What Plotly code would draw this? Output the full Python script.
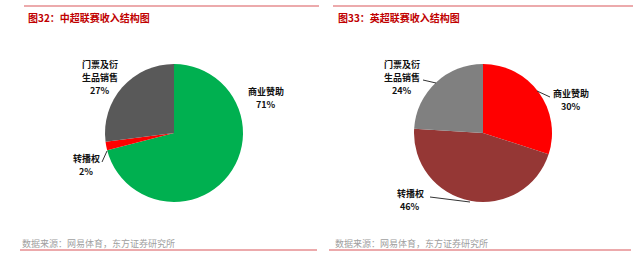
import plotly.graph_objects as go

W, H = 640, 256

# Data
cats_csl = ["商业赞助", "转播权", "门票及衍<br>生品销售"]
vals_csl = [71, 2, 27]
colors_csl = ["#00B050", "#FF0000", "#595959"]

cats_epl = ["商业赞助", "转播权", "门票及衍<br>生品销售"]
vals_epl = [30, 46, 24]
colors_epl = ["#FF0000", "#953735", "#808080"]

titles = ["图32：中超联赛收入结构图", "图33：英超联赛收入结构图"]
source = "数据来源：网易体育，东方证券研究所"

FONT = "Noto Sans CJK SC"


def px(x):
    return x / W


def py(y):
    return 1 - y / H


fig = go.Figure()

for vals, cats, cols, (x0, x1) in [
    (vals_csl, cats_csl, colors_csl, (105, 243)),
    (vals_epl, cats_epl, colors_epl, (414, 552)),
]:
    fig.add_trace(go.Pie(
        values=vals, labels=cats, marker=dict(colors=cols, line=dict(width=0)),
        sort=False, direction="clockwise", rotation=0,
        textinfo="none", hoverinfo="label+percent", showlegend=False,
        domain=dict(x=[px(x0), px(x1)], y=[py(202), py(64)]),
    ))

annotations = []
shapes = []

# titles and sources
for tx, t in zip([26, 336], titles):
    annotations.append(dict(x=px(tx), y=py(17), xref="paper", yref="paper", text="<b>%s</b>" % t,
                            showarrow=False, xanchor="left", yanchor="middle",
                            font=dict(family=FONT, size=10, color="#C00000")))
for tx in [20, 333]:
    annotations.append(dict(x=px(tx), y=py(243), xref="paper", yref="paper", text=source,
                            showarrow=False, xanchor="left", yanchor="middle",
                            font=dict(family=FONT, size=9, color="#A0A0A0")))
for (a, b) in [(24, 319), (333, 633)]:
    shapes.append(dict(type="line", xref="paper", yref="paper", x0=px(a), x1=px(b), y0=py(6), y1=py(6),
                       line=dict(color="#D9575B", width=1.2)))
    shapes.append(dict(type="line", xref="paper", yref="paper", x0=px(a - 4), x1=px(b - 2), y0=py(250), y1=py(250),
                       line=dict(color="#D9575B", width=1.2)))

# slice labels: (text centre x, first line y, category, value)
label_pos = [
    (266, 91, cats_csl[0], vals_csl[0]),
    (86, 158, cats_csl[1], vals_csl[1]),
    (100, 64, cats_csl[2], vals_csl[2]),
    (571, 93, cats_epl[0], vals_epl[0]),
    (410, 193, cats_epl[1], vals_epl[1]),
    (402, 64, cats_epl[2], vals_epl[2]),
]
LINE = 13
for x, y, c, v in label_pos:
    lines = c.split("<br>") + ["%d%%" % v]
    for i, ln in enumerate(lines):
        annotations.append(dict(x=px(x), y=py(y + i * LINE), xref="paper", yref="paper",
                                text="<b>%s</b>" % ln, showarrow=False,
                                xanchor="center", yanchor="middle", align="center",
                                font=dict(family=FONT, size=9, color="#111111")))

leaders = [
    (102, 162, 107, 151),
    (537, 91, 550, 97),
    (423, 80, 436, 83),
    (430, 197, 470, 202),
]
for a, b, c, d in leaders:
    shapes.append(dict(type="line", xref="paper", yref="paper", x0=px(a), y0=py(b), x1=px(c), y1=py(d),
                       line=dict(color="#333333", width=1)))

fig.update_layout(width=W, height=H, margin=dict(l=0, r=0, t=0, b=0),
                  paper_bgcolor="white", plot_bgcolor="white",
                  annotations=annotations, shapes=shapes, font=dict(family=FONT))

fig.write_html("out.html")
